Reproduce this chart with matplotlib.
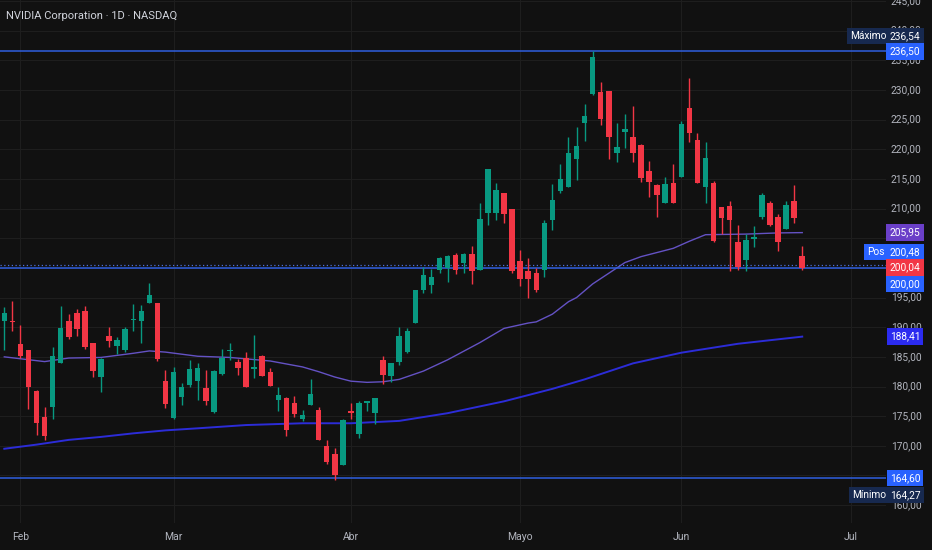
#NVIDIA daily candles with moving averages, dark chart style
import matplotlib
matplotlib.use("Agg")
import matplotlib.pyplot as plt
import matplotlib.transforms as mtrans

plt.rcParams['font.family'] = ['Roboto', 'DejaVu Sans']

#Candle data (one entry per trading day)
opens = [191.0, 191.0, 187.1, 186.1, 179.3, 174.8, 176.5, 183.9, 191.1, 192.4,
         192.8, 187.3, 181.6, 188.6, 186.8, 186.2, 191.2, 191.1, 194.1, 194.1,
         181.0, 174.7, 178.3, 180.2, 180.9, 179.8, 175.7, 182.1, 186.0, 184.2,
         184.8, 183.0, 185.1, 182.5, 177.8, 178.0, 177.3, 174.6, 176.9, 176.0,
         170.0, 168.7, 166.8, 175.9, 172.0, 177.2, 175.6, 184.5, 181.7, 184.2,
         185.9, 190.7, 196.3, 197.1, 199.6, 199.9, 202.1, 200.8, 202.4, 199.6,
         209.3, 209.2, 212.6, 209.9, 201.2, 199.5, 199.1, 199.6, 208.1, 212.9,
         213.7, 218.3, 224.5, 229.4, 229.7, 229.9, 219.3, 223.0, 222.0, 220.7,
         216.3, 214.0, 211.0, 214.4, 215.4, 226.9, 221.6, 213.6, 214.4, 210.2,
         210.4, 204.4, 201.3, 204.9, 208.6, 211.0, 208.5, 206.6, 211.2, 202.0]
highs = [193.4, 194.4, 190.3, 186.1, 179.4, 176.5, 186.7, 193.5, 192.2, 193.1,
         193.5, 187.3, 184.8, 190.1, 188.3, 190.1, 193.9, 193.7, 197.4, 194.1,
         182.7, 183.3, 180.6, 184.5, 183.9, 182.7, 182.8, 186.3, 187.4, 184.6,
         185.9, 188.7, 185.3, 183.2, 180.0, 178.2, 178.4, 176.1, 181.2, 176.5,
         171.0, 169.6, 174.5, 177.3, 177.6, 177.6, 178.0, 185.1, 184.0, 190.1,
         189.8, 196.3, 200.2, 199.8, 201.9, 202.2, 202.5, 202.5, 203.7, 211.0,
         216.6, 214.4, 212.6, 210.0, 203.0, 201.6, 199.9, 208.0, 214.2, 217.6,
         222.0, 223.7, 227.6, 236.54, 231.4, 229.9, 224.4, 225.9, 227.3, 220.9,
         218.1, 214.1, 215.4, 217.6, 224.7, 232.1, 222.7, 221.3, 214.7, 210.2,
         211.2, 207.2, 205.7, 207.1, 212.6, 211.2, 209.1, 211.2, 214.0, 203.7]
lows = [186.1, 189.4, 184.8, 176.2, 171.9, 171.0, 174.6, 183.9, 188.0, 188.6,
        186.3, 181.6, 179.0, 186.6, 185.5, 185.8, 189.4, 187.3, 194.0, 184.3,
        176.4, 174.6, 176.8, 179.9, 177.8, 176.8, 175.5, 181.9, 184.5, 181.9,
        180.0, 181.4, 181.7, 180.1, 175.8, 171.7, 174.8, 174.1, 176.9, 171.0,
        167.0, 164.27, 166.8, 174.6, 171.3, 175.8, 173.7, 180.4, 180.8, 183.6,
        185.6, 190.7, 195.7, 195.7, 199.1, 197.7, 199.0, 199.1, 197.3, 199.6,
        207.2, 208.1, 207.5, 199.2, 197.0, 194.9, 196.0, 198.5, 206.4, 212.7,
        213.7, 214.8, 221.4, 229.2, 224.1, 218.3, 217.9, 220.3, 217.9, 214.5,
        212.0, 208.6, 210.9, 210.9, 215.4, 221.3, 214.4, 210.9, 204.3, 205.8,
        199.4, 199.6, 199.5, 203.5, 208.2, 207.1, 202.9, 206.5, 207.6, 199.7]
closes = [192.4, 190.9, 185.2, 180.0, 173.8, 171.6, 185.2, 189.9, 188.3, 189.7,
          186.6, 182.6, 184.7, 187.6, 187.8, 189.7, 191.3, 192.7, 195.5, 184.7,
          177.1, 182.4, 179.9, 182.9, 183.1, 177.6, 182.6, 184.8, 186.1, 183.1,
          180.0, 183.3, 181.8, 180.1, 178.5, 172.6, 175.4, 175.2, 178.7, 171.0,
          167.3, 165.1, 174.4, 175.6, 177.3, 177.6, 178.0, 181.9, 184.0, 188.6,
          189.3, 196.3, 198.8, 198.4, 201.6, 202.0, 199.7, 202.3, 199.5, 208.2,
          216.6, 213.1, 209.1, 199.4, 198.2, 198.2, 196.2, 207.6, 211.5, 215.0,
          219.3, 220.6, 225.6, 235.5, 225.1, 222.1, 220.4, 223.4, 219.3, 215.1,
          214.5, 212.3, 214.1, 211.0, 224.3, 222.7, 214.4, 218.5, 204.6, 208.4,
          208.1, 200.2, 204.7, 205.2, 212.3, 207.2, 204.4, 210.6, 208.4, 200.04]

#Moving averages read at some candles
ma50_idx = [1, 6, 9, 13, 17, 19, 21, 25, 29, 34, 38, 40, 42, 44, 46, 48, 50, 53, 56,
            60, 63, 66, 67, 69, 71, 72, 74, 76, 78, 80, 84, 86, 88, 93, 97, 100]
ma50_val = [185.0, 184.2, 184.8, 184.9, 185.6, 186.0, 185.8, 185.1, 184.9, 184.3,
            183.3, 182.5, 181.6, 180.9, 180.7, 180.8, 181.2, 182.6, 184.5, 187.4,
            189.8, 190.7, 190.9, 192.2, 194.3, 195.0, 197.3, 199.1, 200.9, 201.9,
            203.3, 204.5, 205.6, 205.7, 205.9, 205.95]
ma200_idx = [1, 5, 9, 13, 17, 21, 25, 31, 38, 44, 50, 56, 63, 69, 73, 79, 85, 92, 100]
ma200_val = [169.5, 170.2, 171.0, 171.5, 172.1, 172.6, 172.95, 173.5, 173.8, 173.8,
             174.2, 175.5, 177.5, 179.6, 181.2, 183.9, 185.7, 187.2, 188.41]

#Month labels (candle index of first trading day)
month_idx = [3, 22, 44, 65, 85, 106]
month_names = ["Feb", "Mar", "Abr", "Mayo", "Jun", "Jul"]

#Horizontal levels
max_line = 236.50
pos_line = 200.48
mid_line = 200.00
min_line = 164.60
max_price = 236.54
min_price = 164.27

#Price scale labels (the ones hidden behind the value boxes are left out)
grid_prices = list(range(160, 250, 5))
scale_labels = [160, 170, 175, 180, 185, 190, 195, 210, 215, 220, 225, 230, 235, 240, 245]

bg = '#111111'
up = '#089981'
down = '#F23645'
txt = '#B2B5BE'

fig = plt.figure(figsize=(9.32, 5.5), dpi=100, facecolor=bg)
ax = fig.add_axes([0, 27 / 550, 886 / 932, 523 / 550])
ax.set_facecolor(bg)
ax.set_xlim(1 - 4.3 / 8.06, 1 + 881.7 / 8.06)
ax.set_ylim(230 - 433 / 5.93, 230 + 90 / 5.93)
for s in ax.spines.values():
    s.set_visible(False)
ax.set_xticks([])
ax.set_yticks([])

#Grid
for p in grid_prices:
    ax.axhline(p, color='#1e1e1e', lw=0.8, zorder=0)
for m in month_idx:
    ax.axvline(m, color='#1e1e1e', lw=0.8, zorder=0)

#Moving averages
ax.plot(ma200_idx, ma200_val, color='#2c2cd8', lw=1.4, zorder=2)
ax.plot(ma50_idx, ma50_val, color='#6452c4', lw=1.0, zorder=2)

#Level lines
ax.axhline(max_line, color='#2f5fe0', lw=1.1, zorder=3)
ax.axhline(mid_line, color='#2f5fe0', lw=1.1, zorder=3)
ax.axhline(min_line, color='#2f5fe0', lw=1.1, zorder=3)
ax.axhline(pos_line, color='#4a6ee0', lw=0.9, ls=(0, (1, 2)), zorder=3)

#Candles
idx = list(range(1, len(opens) + 1))
colors = [up if c >= o else down for o, c in zip(opens, closes)]
ax.vlines(idx, lows, highs, colors=colors, lw=1.0, zorder=4)
bottoms = [min(o, c) for o, c in zip(opens, closes)]
heights = [max(abs(c - o), 0.18) for o, c in zip(opens, closes)]
ax.bar(idx, heights, bottom=bottoms, width=0.68, color=colors, zorder=5)

#Title
fig.text(6 / 932, 1 - 16 / 550, "NVIDIA Corporation · 1D · NASDAQ", color='#D1D4DC',
         fontsize=8, va='center', ha='left')

#Price scale
scale = mtrans.blended_transform_factory(fig.transFigure, ax.transData)
for p in scale_labels:
    ax.text(906 / 932, p, f"{p:.2f}".replace('.', ','), transform=scale, color=txt,
            fontsize=7.3, ha='center', va='center', clip_on=False, zorder=6)

def price_box(price, label, color, shift=0, tcolor='white', x=905):
    t = mtrans.offset_copy(scale, fig=fig, x=0, y=-shift, units='dots')
    ax.text(x / 932, price, label, transform=t, color=tcolor, fontsize=7.3,
            ha='center', va='center', clip_on=False, zorder=8,
            bbox=dict(boxstyle='square,pad=0.32', fc=color, ec='none'))

price_box(max_price, f"{max_price:.2f}".replace('.', ','), '#17294f', shift=-15)
price_box(max_price, "Máximo", '#17294f', shift=-15, x=868)
price_box(max_line, f"{max_line:.2f}".replace('.', ','), '#2962FF')
price_box(ma50_val[-1], f"{ma50_val[-1]:.2f}".replace('.', ','), '#6a3fc8')
price_box(pos_line, f"{pos_line:.2f}".replace('.', ','), '#2962FF', shift=-13)
price_box(pos_line, "Pos", '#2962FF', shift=-13, x=876)
price_box(closes[-1], f"{closes[-1]:.2f}".replace('.', ','), down)
price_box(mid_line, f"{mid_line:.2f}".replace('.', ','), '#2962FF', shift=16)
price_box(ma200_val[-1], f"{ma200_val[-1]:.2f}".replace('.', ','), '#2b2bf0')
price_box(min_line, f"{min_line:.2f}".replace('.', ','), '#2962FF')
price_box(min_price, f"{min_price:.2f}".replace('.', ','), '#17294f', shift=15)
price_box(min_price, "Mínimo", '#17294f', shift=15, x=869)

#Time scale
tscale = mtrans.blended_transform_factory(ax.transData, fig.transFigure)
for m, name in zip(month_idx, month_names):
    ax.text(m, 1 - 537 / 550, name, transform=tscale, color=txt, fontsize=7.5,
            ha='center', va='center', clip_on=False)

plt.savefig('out.png', dpi=100, facecolor=bg)
